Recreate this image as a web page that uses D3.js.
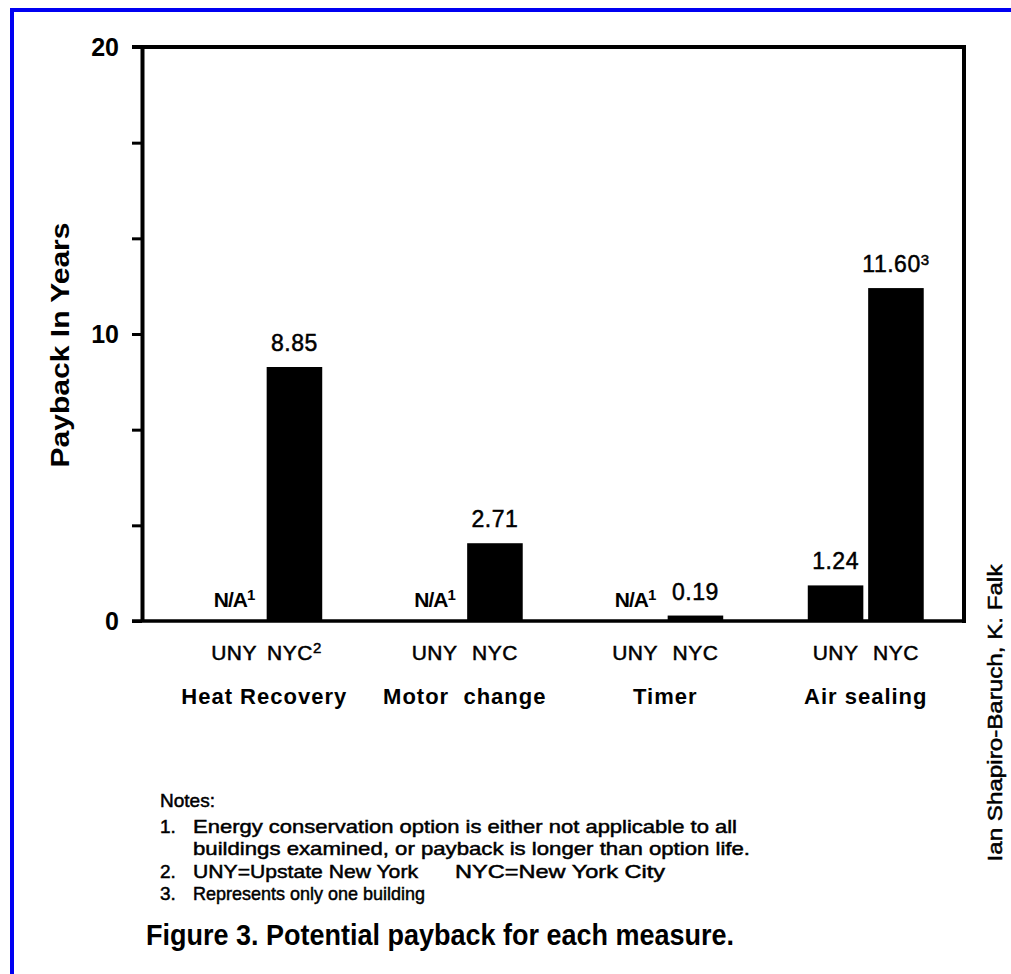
<!DOCTYPE html>
<html>
<head>
<meta charset="utf-8">
<script src="https://cdn.jsdelivr.net/npm/d3@7"></script>
<style>
  body { margin: 0; background: #fff; }
  svg { display: block; }
  text { font-family: "Liberation Sans", Arial, sans-serif; fill: #000; }
  text.heavy { stroke: #000; stroke-width: 0.5px; }
</style>
</head>
<body>
<svg id="chart" width="1011" height="974"></svg>
<script>
// categories and values
var groups = ["Heat Recovery", "Motor  change", "Timer", "Air sealing"];
var regions = ["UNY", "NYC"];
var unyValues = [null, null, null, 1.24];
var nycValues = [8.85, 2.71, 0.19, 11.60];
var unyLabels = ["N/A", "N/A", "N/A", "1.24"];
var nycLabels = ["8.85", "2.71", "0.19", "11.60"];
var unySup = ["1", "1", "1", ""];
var nycSup = ["", "", "", "3"];
var tickSup = ["", "2", "", "", "", "", "", ""];   // NYC² under heat recovery
var yTicks = [0, 10, 20];
var notes = [
  "Energy conservation option is either not applicable to all",
  "buildings examined, or payback is longer than option life.",
  "UNY=Upstate New York",
  "Represents only one building"
];

var svg = d3.select("#chart");
var width = 1011, height = 974;

var plotLeft = 142, plotRight = 964, plotTop = 47, plotBottom = 621;

// blue page border (left + top)
svg.append("line").attr("x1", 12).attr("y1", 8).attr("x2", 12).attr("y2", height)
  .style("stroke", "#0000f2").style("stroke-width", 4);
svg.append("line").attr("x1", 10).attr("y1", 10).attr("x2", width).attr("y2", 10)
  .style("stroke", "#0000f2").style("stroke-width", 4);

var y = d3.scaleLinear().domain([0, 20]).range([plotBottom, plotTop]);

var xGroup = d3.scaleBand().domain(groups).range([164, 966]);
var xSub = d3.scaleBand().domain(regions)
  .range([0, xGroup.bandwidth()])
  .paddingInner(0.08)
  .paddingOuter(0.7);

// flatten into bar records
var bars = [];
groups.forEach(function(g, i) {
  bars.push({group: g, region: "UNY", value: unyValues[i], label: unyLabels[i], sup: unySup[i]});
  bars.push({group: g, region: "NYC", value: nycValues[i], label: nycLabels[i], sup: nycSup[i]});
});

function cx(d) { return xGroup(d.group) + xSub(d.region) + xSub.bandwidth() / 2; }

// y axis, minor ticks every 10/3
var tickVals = d3.range(0, 7).map(function(i) { return i * 10 / 3; });
var yAxis = d3.axisLeft(y)
  .tickValues(tickVals)
  .tickSize(10)
  .tickSizeOuter(0)
  .tickPadding(13)
  .tickFormat(function(d) {
    var r = Math.round(d);
    return yTicks.indexOf(r) >= 0 && Math.abs(d - r) < 1e-6 ? r : "";
  });

var ga = svg.append("g").attr("transform", "translate(" + plotLeft + ",0)").call(yAxis);
ga.select(".domain").style("stroke", "#000").style("stroke-width", 4);
ga.selectAll(".tick line").style("stroke", "#000").style("stroke-width", 3);
ga.selectAll(".tick text")
  .style("font-size", "25px").style("font-weight", "bold").style("font-family", "Liberation Sans, Arial, sans-serif");

// frame: top, right
svg.append("line").attr("x1", plotLeft - 10).attr("y1", y(20)).attr("x2", plotRight + 2).attr("y2", y(20))
  .style("stroke", "#000").style("stroke-width", 4);
svg.append("line").attr("x1", plotRight).attr("y1", y(20) - 2).attr("x2", plotRight).attr("y2", y(0) + 2)
  .style("stroke", "#000").style("stroke-width", 4);

// bars
svg.append("g").selectAll("rect")
  .data(bars.filter(function(d) { return d.value != null; }))
  .join("rect")
  .attr("x", function(d) { return xGroup(d.group) + xSub(d.region); })
  .attr("y", function(d) { return y(d.value); })
  .attr("width", xSub.bandwidth())
  .attr("height", function(d) { return y(0) - y(d.value); })
  .style("fill", "#000");

// baseline
svg.append("line").attr("x1", plotLeft - 10).attr("y1", y(0)).attr("x2", plotRight + 2).attr("y2", y(0))
  .style("stroke", "#000").style("stroke-width", 3.5);

// value labels
var vl = svg.append("g").selectAll("text")
  .data(bars)
  .join("text")
  .attr("class", function(d) { return d.value == null ? null : "heavy"; })
  .attr("x", function(d) { return cx(d); })
  .attr("y", function(d) { return d.value == null ? y(0) - 14 : y(d.value) - 16; })
  .attr("text-anchor", "middle")
  .style("font-size", function(d) { return d.value == null ? "21px" : "23px"; })
  .style("font-weight", function(d) { return d.value == null ? "bold" : "normal"; })
  .style("letter-spacing", function(d) { return d.value == null ? "-1px" : "0.5px"; });
vl.append("tspan").text(function(d) { return d.label; });
vl.append("tspan")
  .attr("dy", "-0.45em")
  .style("font-size", "15px")
  .text(function(d) { return d.sup; });

// region tick labels
var tl = svg.append("g").selectAll("text")
  .data(bars)
  .join("text")
  .attr("class", "heavy")
  .attr("x", function(d) { return cx(d); })
  .attr("y", 660)
  .attr("text-anchor", "middle")
  .style("font-size", "21px")
  .style("letter-spacing", "0.5px");
tl.append("tspan").text(function(d) { return d.region; });
tl.append("tspan")
  .attr("dy", "-0.45em")
  .style("font-size", "15px")
  .text(function(d, i) { return tickSup[i]; });

// group labels
svg.append("g").selectAll("text")
  .data(groups)
  .join("text")
  .attr("x", function(d) { return xGroup(d) + xGroup.bandwidth() / 2; })
  .attr("y", 704)
  .attr("text-anchor", "middle")
  .style("font-size", "22px")
  .style("font-weight", "bold")
  .style("letter-spacing", "1px")
  .style("white-space", "pre")
  .text(function(d) { return d; });

// y title
svg.append("text")
  .attr("transform", "translate(69,345) rotate(-90)")
  .attr("text-anchor", "middle")
  .attr("textLength", 245)
  .attr("lengthAdjust", "spacingAndGlyphs")
  .style("font-size", "25px")
  .style("font-weight", "bold")
  .text("Payback In Years");

// credit on the right
svg.append("text")
  .attr("class", "heavy")
  .attr("transform", "translate(1002,713) rotate(-90)")
  .attr("text-anchor", "middle")
  .attr("textLength", 297)
  .attr("lengthAdjust", "spacingAndGlyphs")
  .style("font-size", "20px")
  .text("Ian Shapiro-Baruch, K. Falk");

// notes
var noteNums = ["1.", "", "2.", "3."];
var noteY = [833, 855, 878, 900];
var noteLen = [544, 557, 225, 232];

svg.append("text").attr("class", "heavy").attr("x", 160).attr("y", 807)
  .style("font-size", "19px").text("Notes:");

notes.forEach(function(n, i) {
  if (noteNums[i]) {
    svg.append("text").attr("class", "heavy").attr("x", 160).attr("y", noteY[i])
      .style("font-size", "19px").text(noteNums[i]);
  }
  svg.append("text").attr("class", "heavy").attr("x", 193).attr("y", noteY[i])
    .attr("textLength", noteLen[i]).attr("lengthAdjust", "spacingAndGlyphs")
    .style("font-size", "19px").text(n);
});
svg.append("text").attr("class", "heavy").attr("x", 455).attr("y", noteY[2])
  .attr("textLength", 210).attr("lengthAdjust", "spacingAndGlyphs")
  .style("font-size", "19px").text("NYC=New York City");

// figure caption
svg.append("text")
  .attr("x", 146).attr("y", 945)
  .attr("textLength", 588)
  .attr("lengthAdjust", "spacingAndGlyphs")
  .style("font-size", "29px")
  .style("font-weight", "bold")
  .text("Figure 3. Potential payback for each measure.");
</script>
</body>
</html>
